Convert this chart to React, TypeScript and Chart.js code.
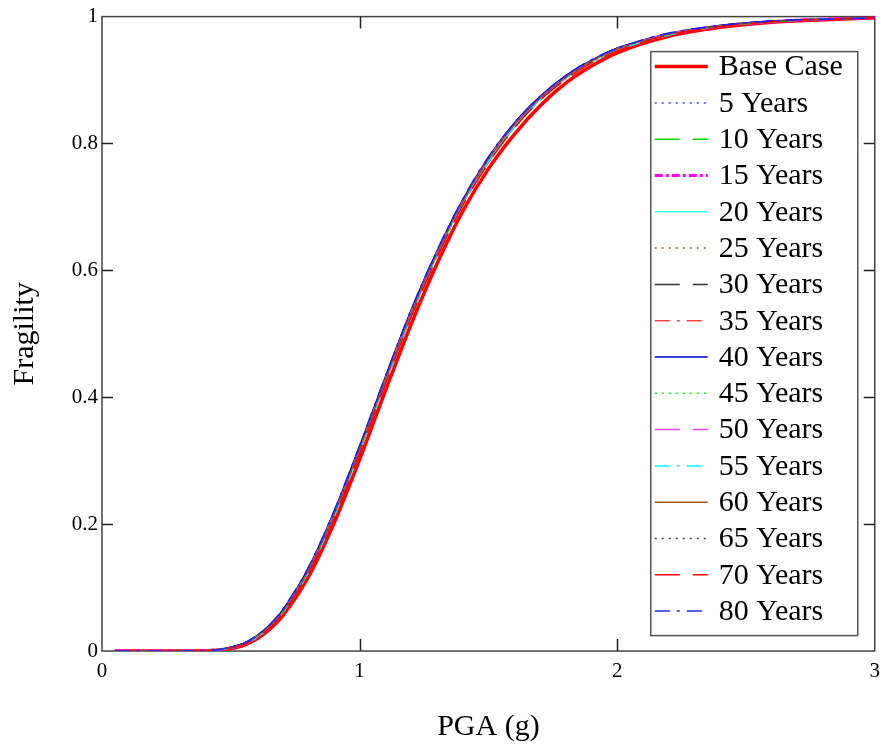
import React, { useEffect, useRef } from "react";
import { Chart, registerables } from "chart.js";

Chart.register(...registerables);

const pga = [0.05, 0.2, 0.35, 0.45, 0.5, 0.55, 0.6, 0.65, 0.7, 0.8, 0.9, 1.0, 1.1, 1.2, 1.3, 1.4, 1.5, 1.6, 1.7, 1.8, 1.9, 2.0, 2.2, 2.4, 2.6, 2.8, 3.0];

const baseCase = [0,0,0,0.001,0.004,0.009,0.019,0.034,0.055,0.116,0.201,0.302,0.410,0.515,0.610,0.693,0.760,0.814,0.859,0.895,0.922,0.943,0.969,0.983,0.991,0.995,0.998];
const y5 = [0,0,0,0.002,0.005,0.011,0.023,0.039,0.061,0.127,0.215,0.319,0.428,0.533,0.627,0.708,0.775,0.829,0.872,0.905,0.930,0.949,0.972,0.985,0.992,0.996,0.998];
const y10 = [0,0,0,0.002,0.005,0.010,0.021,0.037,0.059,0.123,0.210,0.314,0.423,0.528,0.622,0.704,0.771,0.826,0.869,0.902,0.928,0.947,0.971,0.985,0.992,0.996,0.998];
const y15 = [0,0,0,0.002,0.005,0.011,0.022,0.038,0.061,0.126,0.214,0.318,0.427,0.532,0.626,0.707,0.774,0.828,0.871,0.904,0.929,0.948,0.972,0.985,0.992,0.996,0.998];
const y20 = [0,0,0,0.002,0.005,0.011,0.022,0.037,0.060,0.124,0.212,0.316,0.425,0.530,0.624,0.706,0.773,0.827,0.870,0.903,0.929,0.948,0.972,0.985,0.992,0.996,0.998];
const y25 = [0,0,0,0.002,0.005,0.011,0.023,0.039,0.062,0.127,0.216,0.320,0.429,0.534,0.627,0.709,0.776,0.830,0.872,0.905,0.930,0.949,0.973,0.985,0.992,0.996,0.998];
const y30 = [0,0,0,0.002,0.006,0.012,0.024,0.040,0.063,0.129,0.217,0.322,0.431,0.536,0.629,0.710,0.777,0.831,0.873,0.906,0.931,0.950,0.973,0.986,0.993,0.996,0.998];
const y35 = [0,0,0,0.002,0.005,0.010,0.021,0.036,0.058,0.122,0.209,0.313,0.422,0.527,0.621,0.703,0.770,0.825,0.868,0.902,0.927,0.946,0.971,0.984,0.992,0.996,0.998];
const y40 = [0,0,0,0.002,0.006,0.012,0.024,0.041,0.064,0.130,0.219,0.323,0.432,0.537,0.630,0.711,0.778,0.832,0.874,0.907,0.931,0.950,0.973,0.986,0.993,0.996,0.998];
const y45 = [0,0,0,0.002,0.005,0.011,0.022,0.038,0.060,0.125,0.212,0.316,0.425,0.530,0.624,0.706,0.773,0.827,0.870,0.904,0.929,0.948,0.972,0.985,0.992,0.996,0.998];
const y50 = [0,0,0,0.002,0.005,0.011,0.023,0.039,0.062,0.128,0.216,0.320,0.429,0.534,0.628,0.709,0.776,0.830,0.872,0.905,0.930,0.949,0.973,0.985,0.992,0.996,0.998];
const y55 = [0,0,0,0.002,0.005,0.010,0.021,0.037,0.059,0.123,0.211,0.315,0.424,0.529,0.623,0.705,0.772,0.826,0.869,0.903,0.928,0.947,0.971,0.985,0.992,0.996,0.998];
const y60 = [0,0,0,0.002,0.005,0.011,0.023,0.039,0.061,0.126,0.214,0.318,0.427,0.532,0.626,0.708,0.775,0.829,0.871,0.904,0.930,0.949,0.972,0.985,0.992,0.996,0.998];
const y65 = [0,0,0,0.002,0.006,0.012,0.023,0.040,0.062,0.128,0.216,0.321,0.430,0.535,0.628,0.709,0.776,0.830,0.872,0.905,0.930,0.949,0.973,0.986,0.992,0.996,0.998];
const y70 = [0,0,0,0.002,0.005,0.010,0.021,0.036,0.058,0.122,0.208,0.312,0.421,0.526,0.620,0.702,0.769,0.824,0.868,0.901,0.927,0.946,0.971,0.984,0.992,0.996,0.998];
const y80 = [0,0,0,0.002,0.006,0.012,0.024,0.041,0.065,0.131,0.220,0.324,0.433,0.538,0.631,0.712,0.779,0.832,0.874,0.907,0.932,0.950,0.974,0.986,0.993,0.996,0.998];

const seriesLabels = ["Base Case", "5 Years", "10 Years", "15 Years", "20 Years", "25 Years", "30 Years", "35 Years", "40 Years", "45 Years", "50 Years", "55 Years", "60 Years", "65 Years", "70 Years", "80 Years"];
const seriesValues = [baseCase, y5, y10, y15, y20, y25, y30, y35, y40, y45, y50, y55, y60, y65, y70, y80];

const xTicks = [0, 1, 2, 3];
const yTicks = [0, 0.2, 0.4, 0.6, 0.8, 1];

const DOT = [2, 5];
const DASH = [25, 13];
const DASHDOT = [15, 7, 3, 7];
const styles = [
  { color: "#ff0000", width: 3.5, dash: [] as number[] },
  { color: "#4040ff", width: 1.5, dash: DOT },
  { color: "#00e000", width: 1.5, dash: DASH },
  { color: "#ff00ff", width: 3, dash: [8, 3, 3, 3] },
  { color: "#33ffff", width: 1.5, dash: [] as number[] },
  { color: "#a0602a", width: 1.5, dash: DOT },
  { color: "#333333", width: 1.5, dash: DASH },
  { color: "#ff4040", width: 1.5, dash: DASHDOT },
  { color: "#0000cc", width: 1.5, dash: [] as number[] },
  { color: "#00ff00", width: 1.5, dash: DOT },
  { color: "#ff40ff", width: 1.5, dash: DASH },
  { color: "#00ffff", width: 1.5, dash: DASHDOT },
  { color: "#9a5a28", width: 1.5, dash: [] as number[] },
  { color: "#444444", width: 1.5, dash: DOT },
  { color: "#ff0000", width: 1.5, dash: DASH },
  { color: "#2020ff", width: 1.5, dash: DASHDOT },
];

const FONT = "'Liberation Serif', 'Times New Roman', serif";
const FRAME = "#444444";

const framePlugin = {
  id: "frameTicks",
  beforeDatasetsDraw(chart: any) {
    const { ctx, chartArea: a, scales } = chart;
    ctx.save();
    ctx.strokeStyle = FRAME;
    ctx.lineWidth = 1.5;
    ctx.setLineDash([]);
    ctx.strokeRect(a.left, a.top, a.right - a.left, a.bottom - a.top);
    ctx.lineWidth = 1.5;
    ctx.strokeStyle = "#222";
    for (const v of xTicks) {
      if (v === xTicks[0] || v === xTicks[xTicks.length - 1]) continue;
      const px = Math.round(scales.x.getPixelForValue(v)) + 0.5;
      ctx.beginPath();
      ctx.moveTo(px, a.bottom);
      ctx.lineTo(px, a.bottom - 12);
      ctx.moveTo(px, a.top);
      ctx.lineTo(px, a.top + 12);
      ctx.stroke();
    }
    for (const v of yTicks) {
      if (v === yTicks[0] || v === yTicks[yTicks.length - 1]) continue;
      const py = Math.round(scales.y.getPixelForValue(v)) + 0.5;
      ctx.beginPath();
      ctx.moveTo(a.left, py);
      ctx.lineTo(a.left + 11, py);
      ctx.moveTo(a.right, py);
      ctx.lineTo(a.right - 11, py);
      ctx.stroke();
    }
    ctx.restore();
  },
};

const legendPlugin = {
  id: "customLegend",
  afterDatasetsDraw(chart: any) {
    const { ctx, chartArea: a } = chart;
    const bx = a.right - 224;
    const by = a.top + 35;
    const bw = 207;
    const bh = 584;
    ctx.save();
    ctx.fillStyle = "#ffffff";
    ctx.fillRect(bx, by, bw, bh);
    ctx.strokeStyle = "#555555";
    ctx.lineWidth = 1.5;
    ctx.setLineDash([]);
    ctx.strokeRect(bx, by, bw, bh);
    const rowH = 36.3;
    seriesLabels.forEach((lab, i) => {
      const y = by + 15 + i * rowH;
      const s = styles[i];
      ctx.beginPath();
      ctx.strokeStyle = s.color;
      ctx.lineWidth = s.width;
      ctx.setLineDash(s.dash);
      ctx.moveTo(bx + 4, y);
      ctx.lineTo(bx + 57, y);
      ctx.stroke();
      ctx.setLineDash([]);
      ctx.fillStyle = "#000";
      ctx.font = `30px ${FONT}`;
      ctx.textBaseline = "middle";
      ctx.textAlign = "left";
      ctx.fillText(lab, bx + 68, y + 1);
    });
    ctx.restore();
  },
};

export default function App() {
  const ref = useRef<HTMLCanvasElement>(null);
  useEffect(() => {
    if (!ref.current) return;
    const datasets = seriesLabels.map((label, i) => ({
      label,
      data: pga.map((x, j) => ({ x, y: seriesValues[i][j] })),
      borderColor: styles[i].color,
      borderWidth: styles[i].width,
      borderDash: styles[i].dash,
      pointRadius: 0,
      fill: false,
      cubicInterpolationMode: "monotone" as const,
      order: seriesLabels.length - i,
    }));
    const chart = new Chart(ref.current, {
      type: "line",
      data: { datasets },
      options: {
        animation: false,
        responsive: false,
        layout: { padding: { left: 0, top: 15, right: 12, bottom: 0 } },
        plugins: { legend: { display: false }, tooltip: { enabled: false } },
        scales: {
          x: {
            type: "linear",
            min: 0,
            max: 3,
            grid: { display: false, drawTicks: false },
            border: { display: false },
            afterBuildTicks: (s: any) => { s.ticks = xTicks.map((v) => ({ value: v })); },
            afterFit: (s: any) => { s.height = 98; },
            ticks: { padding: 8, color: "#000", font: { family: FONT, size: 21 }, callback: (v: any) => String(v) },
            title: { display: true, text: "PGA (g)", color: "#000", font: { family: FONT, size: 30 }, padding: { top: 0, bottom: 4 } },
          },
          y: {
            type: "linear",
            min: 0,
            max: 1,
            grid: { display: false, drawTicks: false },
            border: { display: false },
            afterBuildTicks: (s: any) => { s.ticks = yTicks.map((v) => ({ value: v })); },
            afterFit: (s: any) => { s.width = 102; },
            ticks: { padding: 4, color: "#000", font: { family: FONT, size: 21 }, callback: (v: any) => String(Number(v.toFixed(1))) },
            title: { display: true, text: "Fragility", color: "#000", font: { family: FONT, size: 30 }, padding: { top: 7, bottom: 0 } },
          },
        },
      },
      plugins: [framePlugin, legendPlugin],
    });
    return () => chart.destroy();
  }, []);
  return (
    <div style={{ position: "fixed", left: 0, top: 0, width: 888, height: 749, background: "#fff" }}>
      <canvas ref={ref} width={888} height={749} style={{ display: "block" }} />
    </div>
  );
}
